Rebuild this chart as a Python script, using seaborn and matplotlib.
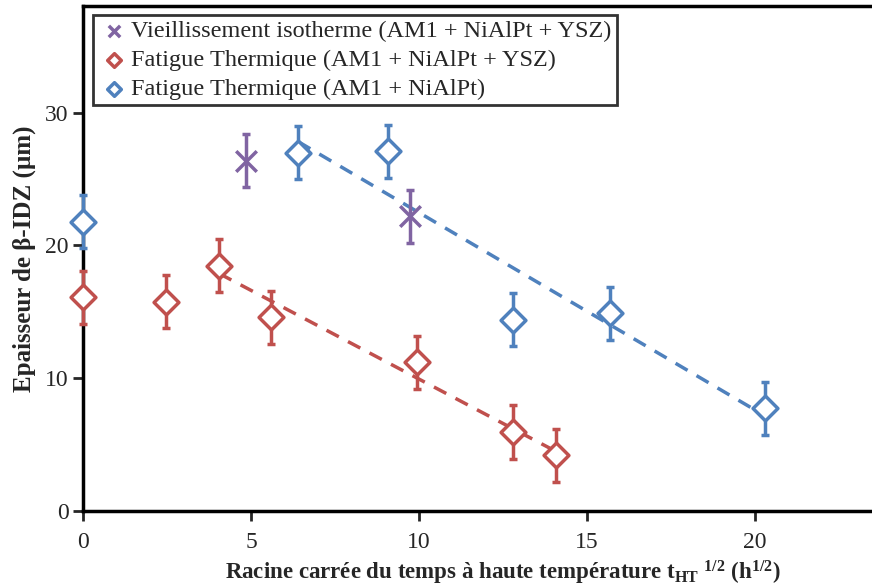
import matplotlib
matplotlib.use('Agg')
import matplotlib.pyplot as plt
import seaborn as sns
import numpy as np

# data
iso_x = [4.86, 9.72]
iso_y = [26.4, 22.2]
iso_err = [2.0, 2.0]

ft_ysz_x = [0.0, 2.47, 4.05, 5.6, 9.95, 12.8, 14.07]
ft_ysz_y = [16.1, 15.75, 18.46, 14.6, 11.2, 5.95, 4.2]
ft_ysz_err = [2.0, 2.0, 2.0, 2.0, 2.0, 2.0, 2.0]

ft_x = [0.0, 6.41, 9.09, 12.8, 15.7, 20.3]
ft_y = [21.8, 27.0, 27.1, 14.4, 14.9, 7.75]
ft_err = [2.0, 2.0, 2.0, 2.0, 2.0, 2.0]

labels = ['Vieillissement isotherme (AM1 + NiAlPt + YSZ)',
          'Fatigue Thermique (AM1 + NiAlPt + YSZ)',
          'Fatigue Thermique (AM1 + NiAlPt)']

purple = '#8064A2'
red = '#C0504D'
blue = '#4F81BD'

sns.set_style('ticks')
plt.rcParams['font.family'] = ['Liberation Serif', 'DejaVu Serif']
plt.rcParams['mathtext.fontset'] = 'custom'
plt.rcParams['mathtext.rm'] = 'Liberation Serif:bold'
plt.rcParams['mathtext.it'] = 'Liberation Serif:bold'
plt.rcParams['mathtext.bf'] = 'Liberation Serif:bold'

fig = plt.figure(figsize=(8.72, 5.88), dpi=100)
# plot area runs a little past the right edge of the picture
ax = fig.add_axes([0.0952, 0.131, 0.963, 0.859])

# error bars
for xs, ys, es, c in [(iso_x, iso_y, iso_err, purple),
                      (ft_ysz_x, ft_ysz_y, ft_ysz_err, red),
                      (ft_x, ft_y, ft_err, blue)]:
    eb = ax.errorbar(xs, ys, yerr=es, fmt='none', ecolor=c, elinewidth=2.5,
                     capsize=3, capthick=2.5, zorder=3)
    for art in eb.lines[1] + eb.lines[2]:
        art.set_clip_on(False)

# trend lines (linear fits)
sns.regplot(x=np.array(ft_ysz_x[2:]), y=np.array(ft_ysz_y[2:]), scatter=False,
            ci=None, ax=ax, color=red,
            line_kws=dict(ls=(0, (4, 3)), lw=2.5, zorder=2))
sns.regplot(x=np.array(ft_x[1:]), y=np.array(ft_y[1:]), scatter=False,
            ci=None, ax=ax, color=blue,
            line_kws=dict(ls=(0, (4, 3)), lw=2.5, zorder=2))

# markers
ax.scatter(iso_x, iso_y, marker='x', s=220, color=purple, linewidths=2.5,
           zorder=4, label=labels[0], clip_on=False)
ax.scatter(ft_ysz_x, ft_ysz_y, marker='D', s=160, facecolor='white',
           edgecolor=red, linewidths=2.5, zorder=4, label=labels[1],
           clip_on=False)
ax.scatter(ft_x, ft_y, marker='D', s=160, facecolor='white',
           edgecolor=blue, linewidths=2.5, zorder=4, label=labels[2],
           clip_on=False)

ax.set_xlim(0, 25)
ax.set_ylim(0, 38.05)
ax.set_xticks([0, 5, 10, 15, 20])
ax.set_yticks([0, 10, 20, 30])
ax.tick_params(axis='both', labelsize=17, length=7, width=2, direction='out')
ax.tick_params(axis='x', pad=8)
for side in ['left', 'bottom', 'top', 'right']:
    ax.spines[side].set_linewidth(2.5)
    ax.spines[side].set_color('black')

ax.set_xlabel(r'Racine carrée du temps à haute température t$_{\mathrm{HT}}$ $^{1/2}$ (h$^{1/2}$)',
              fontsize=16.5, fontweight='bold', labelpad=4)
ax.set_ylabel('Epaisseur de β-IDZ (µm)', fontsize=18, fontweight='bold',
              labelpad=6)

leg = ax.legend(loc='upper left', bbox_to_anchor=(0.0115, 0.982), fontsize=17.5,
                frameon=True, fancybox=False, edgecolor='black',
                handletextpad=0.05, handlelength=1.3, borderpad=0.22,
                labelspacing=0.28, scatterpoints=1, markerscale=0.55,
                borderaxespad=0)
leg.get_frame().set_linewidth(2)

plt.savefig('out.png', dpi=100)
